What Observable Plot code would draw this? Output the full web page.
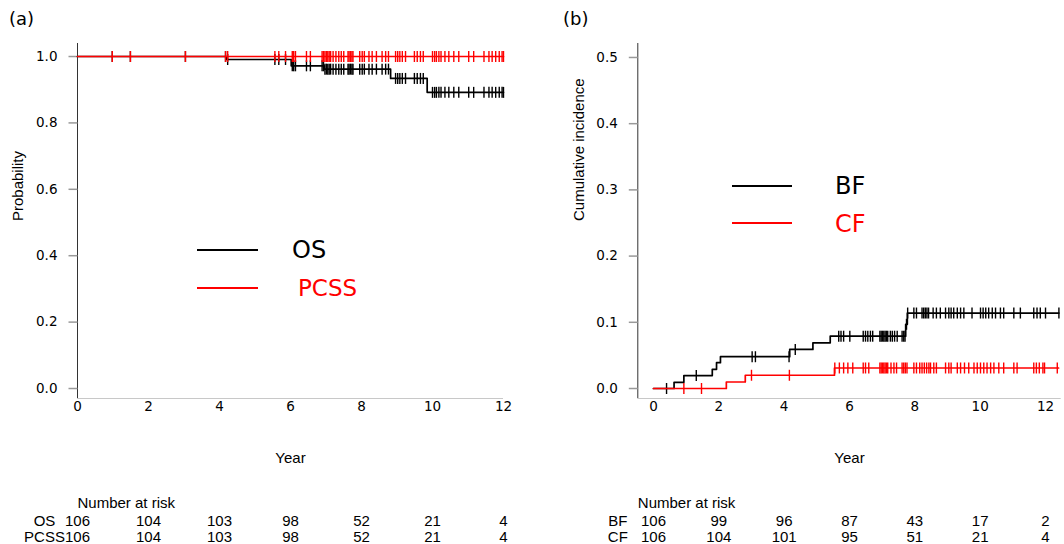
<!DOCTYPE html>
<html><head><meta charset="utf-8">
<script src="https://cdn.jsdelivr.net/npm/d3@7"></script>
<script src="https://cdn.jsdelivr.net/npm/@observablehq/plot@0.6"></script>
<style>
html,body{margin:0;padding:0;background:#fff}
body{width:1064px;height:544px;overflow:hidden;position:relative;font-family:"Liberation Sans",Arial,sans-serif}
.panel{position:absolute;top:0}
.lab{position:absolute;font-family:"DejaVu Sans",Verdana,sans-serif;line-height:1;white-space:nowrap}
.leg{position:absolute;height:0}
</style></head><body>
<div id="a" class="panel" style="left:0"></div>
<div id="b" class="panel" style="left:532px"></div>
<div class="lab" style="left:9px;top:10px;font-size:18px">(a)</div>
<div class="lab" style="left:563px;top:10px;font-size:18px">(b)</div>
<div class="leg" style="left:197px;top:249px;width:61px;border-top:2.8px solid #000"></div>
<div class="leg" style="left:197px;top:287px;width:61px;border-top:2.8px solid #f00"></div>
<div class="lab" style="left:292px;top:238px;font-size:24px;color:#000">OS</div>
<div class="lab" style="left:298px;top:277px;font-size:23px;color:#f00">PCSS</div>
<div class="leg" style="left:732px;top:185px;width:60px;border-top:2.8px solid #000"></div>
<div class="leg" style="left:732px;top:222px;width:60px;border-top:2.8px solid #f00"></div>
<div class="lab" style="left:835px;top:174px;font-size:24px;color:#000">BF</div>
<div class="lab" style="left:835px;top:212px;font-size:24px;color:#f00">CF</div>
<script>
// ---------- data ----------
const riskTimes = [0, 2, 4, 6, 8, 10, 12];
const osAtRisk = [106, 104, 103, 98, 52, 21, 4];
const pcssAtRisk = [106, 104, 103, 98, 52, 21, 4];
const bfAtRisk = [106, 99, 96, 87, 43, 17, 2];
const cfAtRisk = [106, 104, 101, 95, 51, 21, 4];

const xTicks = [0, 2, 4, 6, 8, 10, 12];
const yTicksA = [0, 0.2, 0.4, 0.6, 0.8, 1.0];
const yTicksB = [0, 0.1, 0.2, 0.3, 0.4, 0.5];

// Panel (a): OS and PCSS Kaplan-Meier curves
const osTimes = [0, 4.2, 6.02, 6.95, 8.82, 9.85, 12];
const osSurv  = [1, 0.991, 0.972, 0.962, 0.934, 0.892, 0.892];
const pcssTimes = [0, 12];
const pcssSurv  = [1, 1];
const censorA = [0.98, 1.49, 3.04, 4.17, 4.23, 5.56, 5.67, 5.86, 6.05, 6.09, 6.14, 6.45, 6.56,
  6.89, 6.93, 6.97, 7.01, 7.05, 7.09, 7.13, 7.20, 7.28, 7.36, 7.43, 7.50, 7.62, 7.65, 7.69, 7.73, 7.76,
  7.95, 8.02, 8.08, 8.21, 8.30, 8.42, 8.58, 8.68, 8.76, 8.96, 9.02, 9.08, 9.15, 9.24, 9.49, 9.57,
  9.66, 9.74, 10.00, 10.06, 10.11, 10.18, 10.24, 10.35, 10.46, 10.60, 10.74, 11.02, 11.16, 11.45,
  11.59, 11.68, 11.78, 11.88, 11.96, 12.0];

// Panel (b): cumulative incidence of BF and CF
const bfTimes = [0, 0.63, 0.93, 1.80, 1.93, 2.05, 4.17, 4.88, 5.41, 7.72, 7.77, 12.41];
const bfCum   = [0, 0.0094, 0.0195, 0.029, 0.039, 0.048, 0.059, 0.069, 0.079, 0.097, 0.114, 0.114];
const cfTimes = [0, 2.23, 2.81, 5.54, 12.40];
const cfCum   = [0, 0.0098, 0.0200, 0.031, 0.031];
const bfCensor = [0.40, 1.31, 3.02, 3.12, 4.15, 4.34, 5.67, 5.74, 5.82, 6.01, 6.42, 6.49, 6.56, 6.64,
  6.71, 6.93, 6.97, 7.01, 7.05, 7.09, 7.13, 7.17, 7.25, 7.31, 7.38, 7.46, 7.61, 7.66, 7.70, 7.745,
  7.78, 7.97, 8.05, 8.22, 8.27, 8.32, 8.37, 8.42, 8.56, 8.66, 8.78, 8.94, 9.04, 9.11, 9.19, 9.30,
  9.40, 9.50, 9.75, 10.01, 10.09, 10.17, 10.26, 10.37, 10.47, 10.62, 10.72, 11.03, 11.23, 11.64,
  11.74, 11.84, 12.0, 12.41];
const cfCensor = [0.93, 1.47, 3.00, 4.16, 5.55, 5.69, 5.82, 5.95, 6.10, 6.42, 6.49, 6.59, 6.93, 6.97,
  7.01, 7.05, 7.09, 7.13, 7.17, 7.27, 7.36, 7.44, 7.61, 7.66, 7.71, 7.76, 7.97, 8.05, 8.15, 8.22,
  8.29, 8.36, 8.43, 8.48, 8.58, 8.66, 8.94, 9.04, 9.11, 9.30, 9.40, 9.52, 9.65, 9.81, 9.91, 10.01,
  10.11, 10.21, 10.32, 10.42, 10.57, 10.72, 11.03, 11.13, 11.64, 11.72, 11.81, 11.92, 11.97, 12.36];

// ---------- helpers ----------
function stepAt(times, vals, t) {
  let v = vals[0];
  for (let i = 0; i < times.length; i++) if (times[i] <= t) v = vals[i];
  return v;
}
const toSteps = (times, vals) => times.map((t, i) => ({t, v: vals[i]}));
const toTicks = (cens, times, vals) => cens.map(t => ({t, v: stepAt(times, vals, t)}));
const vTick = {draw(ctx, size) { const r = Math.sqrt(size / Math.PI); ctx.moveTo(0, -r); ctx.lineTo(0, r); }};
const hTick = {draw(ctx, size) { const r = Math.sqrt(size / Math.PI); ctx.moveTo(-r, 0); ctx.lineTo(0, 0); }};

function panel(o) {
  const [x0, x1] = o.xDomain, [y0, y1] = o.yDomain;
  const marks = [
    Plot.ruleX([x0], {y1: y0, y2: y1, stroke: "#333", strokeWidth: 1}),
    Plot.ruleY([y0], {x1: x0, x2: x1, stroke: "#c8c8c8", strokeWidth: 1}),
    Plot.dot(o.yTicks, {x: x0, y: d => d, symbol: hTick, r: 9, stroke: "#999", fill: "none"}),
    Plot.text(o.yTicks, {x: x0, y: d => d, text: d => d3.format(".1f")(d), textAnchor: "end", dx: -20,
      fontFamily: "DejaVu Sans", fontSize: 13.5, fill: "#000"}),
    Plot.text(xTicks, {x: d => d, y: y0, text: d => String(d), dy: 8, lineAnchor: "middle",
      fontFamily: "DejaVu Sans", fontSize: 13.5, fill: "#000"}),
    Plot.text([o.yLabel], {frameAnchor: "left", dx: o.yLabelDx, rotate: -90, fontSize: 15, fill: "#000"}),
    Plot.text(["Year"], {frameAnchor: "bottom", dy: 64, fontSize: 15, fill: "#000"}),
    Plot.text(["Number at risk"], {frameAnchor: "bottom-left", dy: 109, textAnchor: "start", fontSize: 15, fill: "#000"})
  ];
  o.rows.forEach((row, k) => {
    const dy = 127 + k * 16.5;
    marks.push(Plot.text([row.label], {frameAnchor: "bottom-left", dx: o.rowDx, dy, textAnchor: "middle", fontSize: 15, fill: "#000"}));
    marks.push(Plot.text(riskTimes.map((t, i) => ({t, n: row.n[i]})), {x: "t", text: d => String(d.n), frameAnchor: "bottom", dy, fontSize: 15, fill: "#000"}));
  });
  o.series.forEach(s => {
    marks.push(Plot.line(toSteps(s.times, s.vals), {x: "t", y: "v", curve: "step-after", stroke: s.color, strokeWidth: 1.7}));
    marks.push(Plot.dot(toTicks(s.cens, s.times, s.vals), {x: "t", y: "v", symbol: vTick, r: 5.5, stroke: s.color, strokeWidth: 1.4, fill: "none"}));
  });
  return Plot.plot({
    width: 532, height: 544,
    marginLeft: o.marginLeft, marginRight: o.marginRight, marginTop: o.marginTop, marginBottom: o.marginBottom,
    x: {domain: o.xDomain, axis: null},
    y: {domain: o.yDomain, axis: null},
    style: {fontFamily: "Liberation Sans, Arial, sans-serif", background: "transparent", overflow: "visible"},
    marks
  });
}

document.getElementById("a").append(panel({
  xDomain: [0, 12], yDomain: [-0.0301, 1.0392],
  marginLeft: 77, marginRight: 29, marginTop: 43, marginBottom: 146,
  yTicks: yTicksA, yLabel: "Probability", yLabelDx: -59, rowDx: -33,
  rows: [{label: "OS", n: osAtRisk}, {label: "PCSS", n: pcssAtRisk}],
  series: [
    {times: osTimes, vals: osSurv, cens: censorA, color: "#000"},
    {times: pcssTimes, vals: pcssSurv, cens: censorA, color: "#ff0000"}
  ]
}));

document.getElementById("b").append(panel({
  xDomain: [-0.48, 12.48], yDomain: [-0.0151, 0.5211],
  marginLeft: 105.3, marginRight: 3.3, marginTop: 43, marginBottom: 146,
  yTicks: yTicksB, yLabel: "Cumulative incidence", yLabelDx: -59, rowDx: -20,
  rows: [{label: "BF", n: bfAtRisk}, {label: "CF", n: cfAtRisk}],
  series: [
    {times: bfTimes, vals: bfCum, cens: bfCensor, color: "#000"},
    {times: cfTimes, vals: cfCum, cens: cfCensor, color: "#ff0000"}
  ]
}));
</script>
</body></html>
